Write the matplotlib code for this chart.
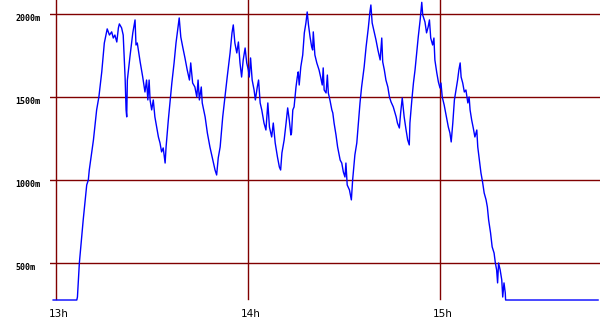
import matplotlib
matplotlib.use("Agg")
import matplotlib.pyplot as plt
from matplotlib.transforms import ScaledTranslation

# minutes after 13:00 and altitude in metres
minutes = [
    -0.9, 6.5, 6.7, 7.3, 8.5, 9.6, 10.1, 10.4, 11.7, 12.7, 13.4, 14.3, 15.1, 16.0, 16.7, 17.4,
    17.9, 18.4, 19.0, 19.5, 19.8, 20.5, 21.0, 21.6, 21.9, 22.1, 22.3, 23.1, 24.0, 24.7, 25.0,
    25.4, 26.3, 27.1, 27.8, 28.3, 28.7, 29.1, 29.4, 29.9, 30.4, 30.9, 31.5, 32.0, 32.5, 33.0,
    33.5, 34.1, 34.4, 35.1,
    36.2, 36.9, 37.5, 38.2, 38.5, 39.0, 39.6, 40.3, 41.0, 41.7, 42.1, 42.7, 43.4, 44.0, 44.4,
    44.8, 45.4, 45.7, 46.6, 47.3, 48.1, 49.0, 49.7, 50.2, 50.7, 51.3, 52.1, 52.8, 53.5, 54.4,
    55.0, 55.4, 55.9, 56.5, 57.0, 57.5, 58.0, 58.5, 59.1, 59.6, 60.1, 60.4, 60.8, 61.3, 61.9,
    62.3, 62.9, 63.3, 63.8, 64.3, 65.0, 65.6, 66.2, 66.7, 67.4, 67.9, 68.5, 69.2, 69.8, 70.2,
    70.6, 71.3, 71.9, 72.4, 72.9, 73.4,
    73.6, 74.0, 74.4, 75.0, 75.4, 75.7, 76.0, 76.5, 77.1, 77.6, 78.1, 78.5, 78.9, 79.4, 79.9,
    80.2, 80.4, 80.9, 81.5, 82.2, 82.7, 83.2, 83.5, 83.8, 84.4, 84.8, 85.1, 85.6, 86.2, 86.5,
    86.9, 87.5, 88.0, 88.8, 89.3, 89.8, 90.3, 90.6, 91.0, 91.7, 92.3, 92.7, 93.4, 94.0, 94.5,
    95.0, 95.5, 96.3, 96.9, 97.6, 98.1, 98.4, 98.8, 99.5, 100.0, 100.6, 101.3, 101.8, 102.1,
    102.6, 103.1, 103.7, 104.2, 104.7, 105.4, 106.3, 106.7, 107.3, 107.7, 108.2, 108.8, 109.4,
    109.9, 110.4,
    110.6, 111.2, 111.7, 112.2, 112.7, 113.2, 113.8, 114.3, 114.6, 115.3, 115.8, 116.3, 116.7,
    117.1, 117.7, 118.1, 118.4, 119.0, 119.5, 120.0, 120.3, 120.7, 121.3, 121.9, 122.6, 123.1,
    123.5, 124.0, 124.5, 125.0, 125.5, 125.9, 126.3, 126.6, 127.1, 127.6, 128.1, 128.7, 129.1,
    129.4, 129.9, 130.4, 130.9, 131.5, 131.8, 132.3, 132.8, 133.3, 133.8, 134.4, 134.8, 135.2,
    135.8, 136.3, 136.9, 137.3, 137.7, 138.0, 138.3, 138.8, 139.3, 139.6, 140.0, 140.4, 140.5,
    169.4,
]
altitude = [
    277, 277, 295, 500, 759, 970, 1000, 1060, 1241, 1422, 1500, 1651, 1825, 1910, 1873, 1892,
    1855, 1873, 1831, 1916, 1940, 1916, 1873, 1614, 1422, 1380, 1602, 1741, 1886, 1964, 1813,
    1825, 1711, 1620, 1530, 1602, 1482, 1602, 1482, 1422, 1482, 1380, 1313, 1259, 1223, 1169,
    1193, 1102, 1199, 1361,
    1584, 1705, 1825, 1934, 1976, 1861, 1801, 1735, 1663, 1602, 1705, 1584, 1560, 1500, 1602,
    1482, 1560, 1464, 1380, 1283, 1199, 1120, 1060, 1030, 1133, 1199, 1380, 1500, 1620, 1765,
    1886, 1934, 1825, 1765, 1831, 1705, 1620, 1723, 1795, 1705, 1663, 1620, 1735, 1602, 1542,
    1482, 1560, 1602, 1464, 1422, 1343, 1301, 1464, 1319, 1259, 1343, 1223, 1139, 1078, 1060,
    1163, 1241, 1343, 1434, 1361, 1271,
    1283, 1422, 1440, 1560, 1620, 1651, 1572, 1681, 1753, 1886, 1946, 2012, 1934, 1861, 1801,
    1783, 1892, 1753, 1705, 1663, 1620, 1572, 1675, 1542, 1524, 1632, 1524, 1482, 1422, 1404,
    1343, 1271, 1199, 1120, 1102, 1048, 1018, 1102, 970, 940, 880, 1000, 1151, 1223, 1343,
    1464, 1560, 1681, 1801, 1916, 2012, 2054, 1946, 1886, 1843, 1783, 1723, 1855, 1711,
    1663, 1602, 1560, 1500, 1470, 1440, 1380, 1343, 1313, 1404, 1494, 1380, 1301,
    1241, 1211,
    1343, 1482, 1584, 1663, 1765, 1861, 1964, 2070, 1994, 1952, 1886, 1922, 1964,
    1855, 1813, 1855, 1723, 1645, 1590, 1554, 1584, 1500, 1452, 1392, 1319, 1283,
    1229, 1343, 1482, 1542, 1602, 1663, 1705, 1620, 1584, 1530, 1542, 1464, 1500,
    1422, 1361, 1313, 1259, 1301, 1199, 1120, 1042, 988, 922, 880, 837, 759,
    681, 597, 560, 500, 458, 380, 500, 458, 398, 295, 380, 319, 277,
    277,
]

hour_ticks = [13, 14, 15]
hour_labels = ["13h", "14h", "15h"]
alt_ticks = [500, 1000, 1500, 2000]
alt_labels = ["500m", "1000m", "1500m", "2000m"]

GRID = "#800000"


def main():
    fig = plt.figure(figsize=(6.0, 3.3), dpi=100)
    ax = fig.add_axes([50 / 600, 28 / 330, 550 / 600, 302 / 330])

    hours = [13 + m / 60 for m in minutes]
    ax.plot(hours, altitude, color="#0000ff", linewidth=1.0, zorder=3)

    ax.set_xlim(13 - 1.875 / 60, 13 + 170 / 60)
    ax.set_ylim(265, 2084)

    for h in hour_ticks:
        ax.axvline(h, ymin=0.01, ymax=1.0, color=GRID, linewidth=1.0, zorder=1)
    for a in alt_ticks:
        ax.axhline(a, color=GRID, linewidth=1.0, zorder=1)

    for s in ax.spines.values():
        s.set_visible(False)

    ax.set_xticks(hour_ticks)
    ax.set_xticklabels(hour_labels, fontsize=7.5, family="DejaVu Sans")
    ax.set_yticks(alt_ticks)
    ax.set_yticklabels(alt_labels, fontsize=6, family="DejaVu Sans Mono",
                       fontweight="bold", ha="left")
    ax.tick_params(axis="x", length=0, pad=5)
    ax.tick_params(axis="y", length=0, pad=25)

    shift = ScaledTranslation(0, -4 / 100, fig.dpi_scale_trans)
    for label in ax.get_yticklabels():
        label.set_transform(label.get_transform() + shift)
    xshift = ScaledTranslation(3 / 100, 0, fig.dpi_scale_trans)
    for label in ax.get_xticklabels():
        label.set_transform(label.get_transform() + xshift)

    fig.savefig("out.png", dpi=100, facecolor="white")
    plt.close(fig)


if __name__ == "__main__":
    main()
